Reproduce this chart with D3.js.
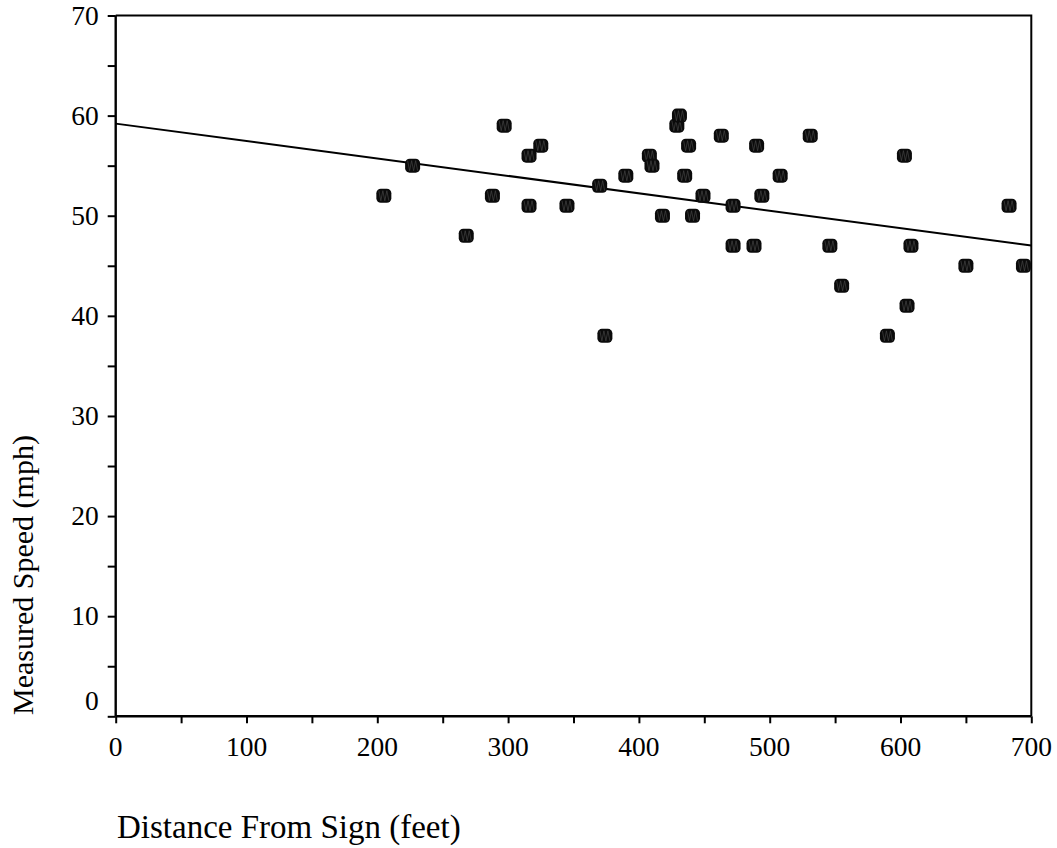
<!DOCTYPE html>
<html>
<head>
<meta charset="utf-8">
<script src="https://cdn.jsdelivr.net/npm/d3@7"></script>
<style>
  body { margin: 0; background: #fff; }
  svg { display: block; font-family: "Liberation Serif", "Times New Roman", serif; }
</style>
</head>
<body>
<div id="chart"></div>
<script>
// data
const distanceFeet = [205, 227, 268, 288, 297, 316, 316, 325, 345, 370, 374, 390, 408, 410, 418, 429, 431, 435, 438, 441,
  449, 463, 472, 472, 488, 490, 494, 508, 531, 546, 555, 590, 603, 605, 608, 650, 683, 694];
const speedMph = [52, 55, 48, 52, 59, 56, 51, 57, 51, 53, 38, 54, 56, 55, 50, 59, 60, 54, 57, 50,
  52, 58, 51, 47, 47, 57, 52, 54, 58, 47, 43, 38, 56, 41, 47, 45, 51, 45];
const xTickLabels = [0, 100, 200, 300, 400, 500, 600, 700];
const yTickLabels = [0, 10, 20, 30, 40, 50, 60, 70];
// fitted trend line (speed = a + b * distance)
const trendIntercept = 59.2;
const trendSlope = -0.0174;

const width = 1057;
const height = 848;
const plotLeft = 115.7, plotRight = 1031.3, plotTop = 15.5, plotBottom = 716.3;

const svg = d3.select('#chart')
  .append('svg')
  .attr('width', width)
  .attr('height', height);

const x = d3.scaleLinear().domain([0, 700]).range([plotLeft, plotRight]);
const y = d3.scaleLinear().domain([0, 70]).range([plotBottom, plotTop]);

// frame (top and right)
svg.append('path')
  .attr('d', `M${plotLeft},${plotTop}H${plotRight}V${plotBottom}`)
  .attr('fill', 'none')
  .attr('stroke', '#000')
  .attr('stroke-width', 2);

// x axis
const xAxis = svg.append('g')
  .attr('transform', `translate(0,${plotBottom})`)
  .call(d3.axisBottom(x).tickValues(d3.range(0, 701, 50)).tickSize(7).tickFormat(''));
xAxis.select('.domain').attr('stroke-width', 2.4).attr('d', `M${plotLeft},0H${plotRight}`);
xAxis.selectAll('.tick line').attr('stroke-width', 2);

svg.append('g')
  .selectAll('text')
  .data(xTickLabels)
  .join('text')
  .attr('x', d => x(d))
  .attr('y', plotBottom + 39.4)
  .attr('text-anchor', 'middle')
  .style('font-size', '27.5px')
  .text(d => d);

// y axis
const yAxis = svg.append('g')
  .attr('transform', `translate(${plotLeft},0)`)
  .call(d3.axisLeft(y).tickValues(d3.range(0, 71, 5)).tickSize(8).tickFormat(''));
yAxis.select('.domain').attr('stroke-width', 2.4).attr('d', `M0,${plotTop}V${plotBottom}`);
yAxis.selectAll('.tick line').attr('stroke-width', 2);

svg.append('g')
  .selectAll('text')
  .data(yTickLabels)
  .join('text')
  .attr('x', plotLeft - 17)
  .attr('y', d => d === 0 ? y(d) - 6.3 : y(d) + 9.3)
  .attr('text-anchor', 'end')
  .style('font-size', '27.5px')
  .text(d => d);

// axis titles
svg.append('text')
  .attr('x', 117)
  .attr('y', 838)
  .style('font-size', '33px')
  .text('Distance From Sign (feet)');

svg.append('text')
  .attr('transform', 'translate(33,715) rotate(-90)')
  .attr('text-anchor', 'start')
  .style('font-size', '30px')
  .text('Measured Speed (mph)');

// trend line
svg.append('line')
  .attr('x1', x(0))
  .attr('y1', y(trendIntercept))
  .attr('x2', x(700))
  .attr('y2', y(trendIntercept + trendSlope * 700))
  .attr('stroke', '#000')
  .attr('stroke-width', 2);

// points
const points = svg.append('g')
  .selectAll('g')
  .data(distanceFeet.map((d, i) => ({ dist: d, speed: speedMph[i] })))
  .join('g')
  .attr('transform', d => `translate(${x(d.dist)},${y(d.speed)})`);

points.append('rect')
  .attr('x', -7.5)
  .attr('y', -7)
  .attr('width', 15)
  .attr('height', 14)
  .attr('rx', 4.5)
  .attr('fill', '#0b0b0b');

points.append('path')
  .attr('d', 'M-5,-5L-3,5L-1,-5L1,5L3,-5L5,5')
  .attr('fill', 'none')
  .attr('stroke', '#444')
  .attr('stroke-width', 0.7);
</script>
</body>
</html>
